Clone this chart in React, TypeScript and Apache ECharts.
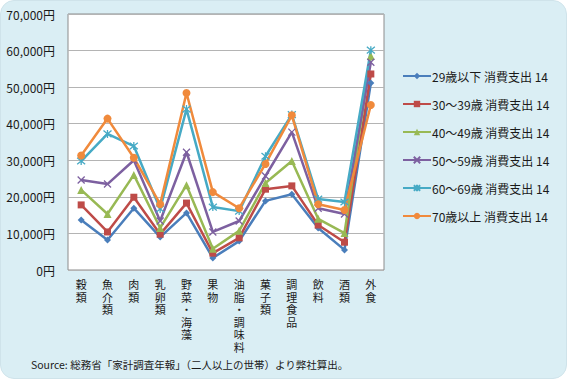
import React, { useEffect, useRef } from "react";
import * as echarts from "echarts";

const categories = ["穀類", "魚介類", "肉類", "乳卵類", "野菜・海藻", "果物", "油脂・調味料", "菓子類", "調理食品", "飲料", "酒類", "外食"];
const seriesNames = [
  "29歳以下 消費支出 14",
  "30～39歳 消費支出 14",
  "40～49歳 消費支出 14",
  "50～59歳 消費支出 14",
  "60～69歳 消費支出 14",
  "70歳以上 消費支出 14",
];
const age29 = [13700, 8200, 16900, 9000, 15600, 3300, 7900, 18900, 20700, 11500, 5500, 51100];
const age30 = [17800, 10400, 19900, 9800, 18300, 4600, 8800, 22100, 23000, 12300, 7600, 53600];
const age40 = [21900, 15300, 26000, 11500, 23200, 5800, 10700, 23800, 29800, 14000, 10100, 58500];
const age50 = [24600, 23500, 30000, 13400, 32200, 10400, 13400, 25700, 37700, 16900, 15300, 56800];
const age60 = [29800, 37200, 33900, 16700, 44000, 17200, 16100, 31100, 42500, 19400, 18600, 60100];
const age70 = [31300, 41400, 30700, 18000, 48400, 21300, 16900, 29000, 42300, 18000, 16400, 45100];
const yTicks = [0, 10000, 20000, 30000, 40000, 50000, 60000, 70000];
const sourceText = "Source: 総務省「家計調査年報」（二人以上の世帯）より弊社算出。";

const allValues = [age29, age30, age40, age50, age60, age70];
const colors = ["#4a7ebb", "#be4b48", "#98b954", "#7d60a0", "#46aac5", "#f08a3c"];
const symbols = [
  "diamond",
  "rect",
  "triangle",
  "path://M0,0L10,10M10,0L0,10",
  "path://M0,0L10,10M10,0L0,10M5,-1L5,11",
  "circle",
];
const symbolSizes = [7, 7, 8, 7, 8, 8];

const FONT = "'Noto Sans CJK JP', sans-serif";

export default function App() {
  const ref = useRef<HTMLDivElement>(null);
  useEffect(() => {
    if (!ref.current) return;
    const chart = echarts.init(ref.current, null, { renderer: "svg" });
    const series = allValues.map((vals, i) => {
      const isStroke = i === 3 || i === 4;
      return {
        name: seriesNames[i],
        type: "line",
        data: vals,
        symbol: symbols[i],
        symbolSize: symbolSizes[i],
        showAllSymbol: true,
        lineStyle: { color: colors[i], width: 2.5 },
        itemStyle: isStroke
          ? { color: colors[i], borderColor: colors[i], borderWidth: 1.3 }
          : { color: colors[i], borderColor: colors[i], borderWidth: 0 },
        emphasis: { disabled: true },
      };
    });
    chart.setOption({
      animation: false,
      textStyle: { fontFamily: FONT },
      grid: {
        left: 67,
        top: 13,
        width: 316,
        height: 256,
        show: true,
        backgroundColor: "#ffffff",
        borderColor: "#8c8c8c",
        borderWidth: 1,
      },
      legend: {
        orient: "vertical",
        left: 401,
        top: 69,
        padding: 0,
        itemWidth: 28,
        itemHeight: 8,
        itemGap: 16,
        textStyle: { fontSize: 12, color: "#1a1a1a", fontFamily: FONT, padding: [0, 0, 0, -4] },
        data: seriesNames,
      },
      xAxis: {
        type: "category",
        data: categories,
        boundaryGap: true,
        axisLine: { show: false },
        axisTick: { show: false },
        axisLabel: {
          interval: 0,
          margin: 8,
          fontSize: 11,
          lineHeight: 12.5,
          color: "#1a1a1a",
          verticalAlign: "top",
          formatter: (v: string) => v.split("").join("\n"),
        },
      },
      yAxis: {
        type: "value",
        min: yTicks[0],
        max: yTicks[yTicks.length - 1],
        interval: 10000,
        axisLine: { show: false },
        axisTick: { show: false },
        splitLine: { lineStyle: { color: "#b4b4b4", width: 1 } },
        axisLabel: {
          margin: 13,
          fontSize: 12,
          color: "#1a1a1a",
          formatter: (v: number) => v.toLocaleString("en-US") + "円",
        },
      },
      graphic: [
        {
          type: "text",
          left: 30,
          top: 358,
          style: { text: sourceText, fontSize: 10.5, fill: "#1a1a1a", fontFamily: FONT },
        },
      ],
      series,
    });
    return () => chart.dispose();
  }, []);
  return (
    <div
      style={{
        position: "fixed",
        left: 0,
        top: 0,
        width: 567,
        height: 379,
        background: "#daeef4",
        borderRadius: 14,
        boxSizing: "border-box",
        border: "1px solid #cfe3ea",
      }}
    >
      <div ref={ref} style={{ width: 565, height: 377 }} />
    </div>
  );
}
